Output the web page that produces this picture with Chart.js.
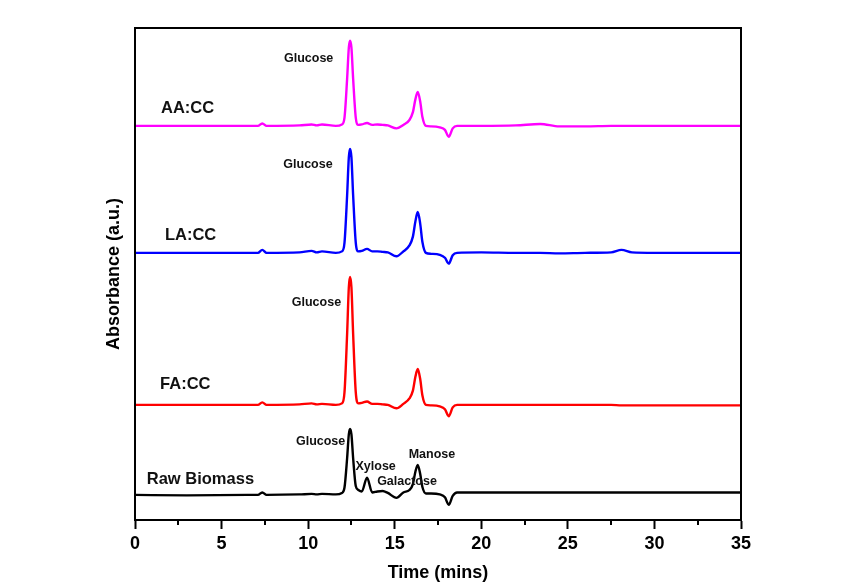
<!DOCTYPE html>
<html>
<head>
<meta charset="utf-8">
<script src="https://cdn.jsdelivr.net/npm/chart.js@4.4.1/dist/chart.umd.min.js"></script>
<style>
  html, body { margin: 0; padding: 0; background: #fff; }
  #wrap { width: 847px; height: 588px; }
</style>
</head>
<body>
<div id="wrap"><canvas id="hplc" width="847" height="588"></canvas></div>
<script>
// retention time grid (min), shared by all four chromatograms
const times = [0, 3, 6.5, 7.1, 7.35, 7.6, 9.5, 10.2, 10.5, 10.8, 11.6, 11.95, 12.1, 12.25, 12.35, 12.42, 12.5, 12.6, 12.75, 12.9,
  13.1, 13.4, 13.7, 14.0, 14.3, 14.6, 15.1, 15.5, 15.85, 16.05, 16.2, 16.33, 16.47, 16.6, 16.8, 17.1, 17.6, 17.9,
  18.12, 18.35, 18.6, 20, 22, 23.4, 24.5, 26, 27.5, 28.1, 28.7, 30, 35];

// detector response above each trace's own baseline (a.u.)
const aaCC = [0, 0, 0, 0, 0.5, 0, 0.1, 0.3, 0.1, 0.3, 0, 0.3, 1.7, 9.5, 15.9, 17.3, 15.9, 9.5, 1.7, 0.2,
  0.3, 0.6, 0.2, 0.3, 0.2, 0.1, -0.5, 0.2, 1.2, 2.8, 5.5, 6.9, 5.0, 1.8, 0.0, -0.1, -0.3, -0.8,
  -2.2, -0.5, 0, 0, 0.1, 0.4, -0.1, -0.1, 0, 0, 0, 0, 0];
const laCC = [0, 0, 0, 0, 0.6, 0, 0.1, 0.4, 0.1, 0.3, 0, 0.3, 2.1, 11.6, 19.4, 21.1, 19.4, 11.6, 2.1, 0.3,
  0.4, 0.8, 0.3, 0.3, 0.2, 0.1, -0.7, 0.3, 1.5, 3.3, 6.5, 8.3, 6.0, 2.2, 0, -0.2, -0.4, -1.0,
  -2.2, -0.5, 0, 0.1, 0, 0, -0.1, 0, 0.1, 0.6, 0.1, 0, 0];
const faCC = [0, 0, 0, 0, 0.5, 0, 0.1, 0.3, 0.1, 0.2, 0, 0.3, 2.6, 14.3, 23.9, 26.0, 23.9, 14.3, 2.6, 0.3,
  0.4, 0.7, 0.2, 0.2, 0.1, 0, -0.7, 0.2, 1.3, 2.9, 5.8, 7.3, 5.3, 1.9, 0, -0.1, -0.3, -0.9,
  -2.3, -0.5, 0, 0, 0, 0, 0, 0, 0, -0.1, -0.1, -0.1, -0.1];
const rawBiomass = [0, -0.1, 0, 0, 0.5, 0, 0.1, 0.2, 0.1, 0.2, 0.1, 0.4, 1.5, 7.4, 12.3, 13.4, 12.3, 7.4, 1.8, 1.0,
  0.7, 3.5, 0.5, 0.7, 0.8, 0.4, -0.6, 0.5, 1.0, 2.2, 4.8, 6.1, 4.3, 1.6, 0.3, 0.3, 0.1, -0.5,
  -2.0, -0.2, 0.5, 0.5, 0.5, 0.5, 0.5, 0.5, 0.5, 0.5, 0.5, 0.5, 0.5];

// vertical stacking of the traces (a.u.)
const seriesNames = ['Raw Biomass', 'FA:CC', 'LA:CC', 'AA:CC'];
const seriesValues = [rawBiomass, faCC, laCC, aaCC];
const seriesOffsets = [5.1, 23.4, 54.3, 80.1];
const seriesColors = ['#000000', '#ff0000', '#0000ff', '#ff00ff'];

// trace names, anchored in (time, absorbance)
const nameLabels = [
  { text: 'AA:CC', t: 1.5, a: 83.7 },
  { text: 'LA:CC', t: 1.73, a: 57.9 },
  { text: 'FA:CC', t: 1.45, a: 27.6 },
  { text: 'Raw Biomass', t: 0.68, a: 8.3 }
];

// sugar peak assignments
const peakLabels = [
  { text: 'Glucose', t: 10.03, a: 93.7 },
  { text: 'Glucose', t: 9.99, a: 72.2 },
  { text: 'Glucose', t: 10.48, a: 44.2 },
  { text: 'Glucose', t: 10.72, a: 15.85 },
  { text: 'Xylose', t: 13.9, a: 10.8 },
  { text: 'Galactose', t: 15.71, a: 7.9 },
  { text: 'Manose', t: 17.15, a: 13.4 }
];

const xMajor = [0, 5, 10, 15, 20, 25, 30, 35];
const xMinor = [2.5, 7.5, 12.5, 17.5, 22.5, 27.5, 32.5];

const datasets = seriesNames.map((name, k) => ({
  label: name,
  data: times.map((t, i) => ({ x: t, y: seriesOffsets[k] + seriesValues[k][i] })),
  borderColor: seriesColors[k],
  borderWidth: 2.4,
  pointRadius: 0,
  cubicInterpolationMode: 'monotone',
  fill: false
}));

const FONT = '"Liberation Sans", Arial, sans-serif';

const annotate = {
  id: 'annotate',
  afterDatasetsDraw(chart) {
    const { ctx, scales: { x, y } } = chart;
    ctx.save();
    ctx.fillStyle = '#111';
    ctx.textBaseline = 'middle';
    ctx.textAlign = 'left';
    ctx.font = 'bold 16.5px ' + FONT;
    nameLabels.forEach(l => ctx.fillText(l.text, x.getPixelForValue(l.t), y.getPixelForValue(l.a)));
    ctx.textAlign = 'center';
    ctx.font = 'bold 12.5px ' + FONT;
    peakLabels.forEach(l => ctx.fillText(l.text, x.getPixelForValue(l.t), y.getPixelForValue(l.a)));
    ctx.restore();
  },
  afterDraw(chart) {
    const { ctx, chartArea: ca, scales: { x } } = chart;
    ctx.save();
    ctx.strokeStyle = '#000';
    ctx.lineWidth = 2;
    ctx.strokeRect(ca.left, ca.top, ca.right - ca.left, ca.bottom - ca.top);
    // short minor ticks between the labelled ones
    ctx.beginPath();
    xMinor.forEach(v => {
      const px = Math.round(x.getPixelForValue(v));
      ctx.moveTo(px, ca.bottom);
      ctx.lineTo(px, ca.bottom + 5);
    });
    ctx.stroke();
    ctx.restore();
  }
};

new Chart(document.getElementById('hplc'), {
  type: 'line',
  data: { datasets },
  options: {
    responsive: false,
    animation: false,
    layout: { padding: { top: 28, right: 106, left: 0, bottom: 0 } },
    plugins: { legend: { display: false }, tooltip: { enabled: false } },
    scales: {
      x: {
        type: 'linear',
        min: 0,
        max: 35,
        afterFit: s => { s.height = 68; },
        afterBuildTicks: s => { s.ticks = xMajor.map(v => ({ value: v })); },
        border: { display: true, color: '#000', width: 2 },
        grid: { display: true, drawOnChartArea: false, drawTicks: true, tickLength: 9, tickColor: '#000', tickWidth: 2 },
        ticks: { color: '#000', padding: 4, font: { family: FONT, size: 18, weight: 'bold' }, maxRotation: 0 },
        title: { display: true, text: 'Time (mins)', color: '#000', padding: { top: 0, bottom: 4 },
          font: { family: FONT, size: 18, weight: 'bold' } }
      },
      y: {
        min: 0,
        max: 100,
        afterFit: s => { s.width = 135; },
        border: { display: true, color: '#000', width: 2 },
        grid: { display: false },
        ticks: { display: false },
        title: { display: true, text: 'Absorbance (a.u.)', color: '#000', padding: { top: 103, bottom: 0 },
          font: { family: FONT, size: 18, weight: 'bold' } }
      }
    }
  },
  plugins: [annotate]
});
</script>
</body>
</html>
